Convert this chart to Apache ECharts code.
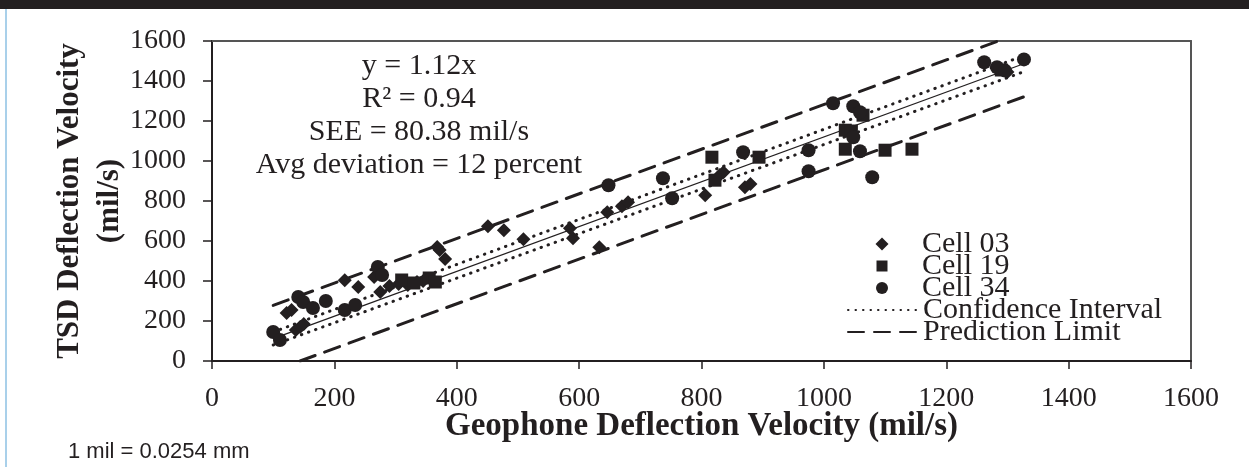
<!DOCTYPE html>
<html>
<head>
<meta charset="utf-8">
<script src="https://cdn.jsdelivr.net/npm/echarts@6/dist/echarts.min.js"></script>
<style>
html,body{margin:0;padding:0;background:#fff;}
#chart{width:1249px;height:467px;}
</style>
</head>
<body>
<div id="chart"></div>
<script>
// ---- data ----
const xTicks = [0, 200, 400, 600, 800, 1000, 1200, 1400, 1600];
const yTicks = [0, 200, 400, 600, 800, 1000, 1200, 1400, 1600];

const cell03 = [[122,240],[130,255],[137,155],[144,170],[150,185],[217,404],[239,370],[265,420],[275,345],[290,375],[305,385],[320,380],[335,395],[345,400],[368,570],[372,555],[381,510],[451,674],[477,654],[509,609],[585,664],[590,614],[633,569],[646,744],[670,774],[680,794],[806,829],[830,930],[836,944],[871,869],[880,885],[1300,1445]];
const cell19 = [[310,405],[330,390],[355,415],[365,395],[817,1019],[822,904],[894,1019],[1035,1154],[1045,1150],[1064,1229],[1035,1059],[1100,1054],[1144,1059],[1290,1455]];
const cell34 = [[100,145],[111,105],[141,320],[149,295],[165,265],[186,300],[217,255],[234,280],[271,470],[278,430],[648,879],[737,914],[752,814],[868,1044],[975,1054],[975,949],[1015,1289],[1048,1274],[1059,1244],[1048,1119],[1059,1049],[1079,919],[1262,1494],[1283,1469],[1296,1452],[1327,1508]];

const fitLine = [[100,112],[1330,1490]];
const confUpper = [[100,145],[1330,1530]];
const confLower = [[100,80],[1330,1450]];
const predUpper = [[100,278],[1285,1600]];
const predLower = [[144,0],[1326,1320]];

const annotation = ['y = 1.12x', 'R\u00B2 = 0.94', 'SEE = 80.38 mil/s', 'Avg deviation = 12 percent'];
const xTitle = 'Geophone Deflection Velocity (mil/s)';
const yTitle = 'TSD Deflection Velocity\n(mil/s)';
const footnote = '1 mil = 0.0254 mm';
const legendNames = ['Cell 03', 'Cell 19', 'Cell 34', 'Confidence Interval', 'Prediction Limit'];

const INK = '#231f20';
const SERIF = '"Liberation Serif","Times New Roman",serif';

// legend layout: each entry its own legend for exact row placement
const rowCenters = [244, 266, 288, 310, 332];
const markerSizes = [13, 11, 12];
const TEXT_X = 922, MARK_CX = 882, LINE_X = 847, LINE_W = 70;
const legends = legendNames.map((name, i) => {
  const base = {
    orient: 'horizontal', padding: 0, itemGap: 0, selectedMode: false,
    textStyle: {fontFamily: SERIF, fontSize: 30, color: INK, lineHeight: 30},
    data: [name]
  };
  if (i < 3) {
    const w = markerSizes[i];
    const left = MARK_CX - w / 2;
    base.left = left;
    base.itemWidth = w; base.itemHeight = w;
    base.textStyle = Object.assign({}, base.textStyle, {padding: [0, 0, 0, TEXT_X - (left + w + 5)]});
  } else {
    base.left = LINE_X;
    base.itemWidth = LINE_W; base.itemHeight = 14;
    base.itemStyle = {opacity: 0};
  }
  base.top = rowCenters[i] - 15;
  return base;
});

const chart = echarts.init(document.getElementById('chart'));
chart.setOption({
  animation: false,
  backgroundColor: '#fff',
  grid: {left: 212, top: 41, right: 58, bottom: 106},
  xAxis: [{
    type: 'value', min: xTicks[0], max: xTicks[xTicks.length-1], interval: 200,
    name: xTitle, nameLocation: 'middle', nameGap: 49, nameMoveOverlap: false,
    nameTextStyle: {fontFamily: SERIF, fontWeight: 'bold', fontSize: 33, color: INK, verticalAlign: 'top'},
    axisLine: {lineStyle: {color: INK, width: 2}},
    axisTick: {show: true, inside: false, length: 8, lineStyle: {color: INK, width: 1.5}},
    axisLabel: {fontFamily: SERIF, fontSize: 28, color: INK, margin: 24, formatter: v => String(v)},
    splitLine: {show: false}
  }, {
    type: 'value', position: 'top', min: 0, max: 1600,
    axisLine: {show: true, onZero: false, lineStyle: {color: '#555', width: 2}},
    axisTick: {show: false}, axisLabel: {show: false}, splitLine: {show: false}
  }],
  yAxis: [{
    type: 'value', min: yTicks[0], max: yTicks[yTicks.length-1], interval: 200,
    name: yTitle, nameLocation: 'middle', nameGap: 82, nameMoveOverlap: false,
    nameTextStyle: {fontFamily: SERIF, fontWeight: 'bold', fontSize: 31, color: INK, lineHeight: 40},
    axisLine: {show: true, lineStyle: {color: INK, width: 2}},
    axisTick: {show: true, inside: false, length: 9, lineStyle: {color: INK, width: 1.5}},
    axisLabel: {fontFamily: SERIF, fontSize: 28, color: INK, margin: 26, formatter: v => String(v)},
    splitLine: {show: false}
  }, {
    type: 'value', position: 'right', min: 0, max: 1600,
    axisLine: {show: true, onZero: false, lineStyle: {color: '#555', width: 2}},
    axisTick: {show: false}, axisLabel: {show: false}, splitLine: {show: false}
  }],
  legend: legends,
  series: [
    {name: 'Cell 03', type: 'scatter', data: cell03, symbol: 'diamond', symbolSize: 14, itemStyle: {color: INK, opacity: 1}},
    {name: 'Cell 19', type: 'scatter', data: cell19, symbol: 'rect', symbolSize: 13, itemStyle: {color: INK, opacity: 1}},
    {name: 'Cell 34', type: 'scatter', data: cell34, symbol: 'circle', symbolSize: 14, itemStyle: {color: INK, opacity: 1}},
    {name: 'Fit', type: 'line', data: fitLine, symbol: 'none', lineStyle: {color: INK, width: 1.3}, z: 1},
    {name: 'Confidence Interval', type: 'line', data: confUpper, symbol: 'none', color: INK,
     lineStyle: {color: INK, width: 3, type: [0.5, 7], cap: 'round'}, z: 1},
    {name: 'Confidence Interval', type: 'line', data: confLower, symbol: 'none', color: INK,
     lineStyle: {color: INK, width: 3, type: [0.5, 7], cap: 'round'}, z: 1},
    {name: 'Prediction Limit', type: 'line', data: predUpper, symbol: 'none', color: INK,
     lineStyle: {color: INK, width: 3, type: [16, 10], cap: 'round'}, z: 1},
    {name: 'Prediction Limit', type: 'line', data: predLower, symbol: 'none', color: INK,
     lineStyle: {color: INK, width: 3, type: [16, 10], cap: 'round'}, z: 1}
  ],
  graphic: [
    {type: 'rect', left: 0, top: 0, shape: {width: 1249, height: 9}, style: {fill: '#231f20'}},
    {type: 'rect', left: 5, top: 9, shape: {width: 2, height: 458}, style: {fill: '#a9d0ea'}},
    {type: 'text', left: 68, top: 441, style: {text: footnote, fontFamily: '"Liberation Sans",Arial,sans-serif', fontSize: 22, fill: INK}},
    {type: 'text', x: 419, y: 50, style: {text: annotation.join('\n'), fontFamily: SERIF, fontSize: 30, lineHeight: 33, fill: INK, align: 'center', verticalAlign: 'top'}}
  ]
});
</script>
</body>
</html>
